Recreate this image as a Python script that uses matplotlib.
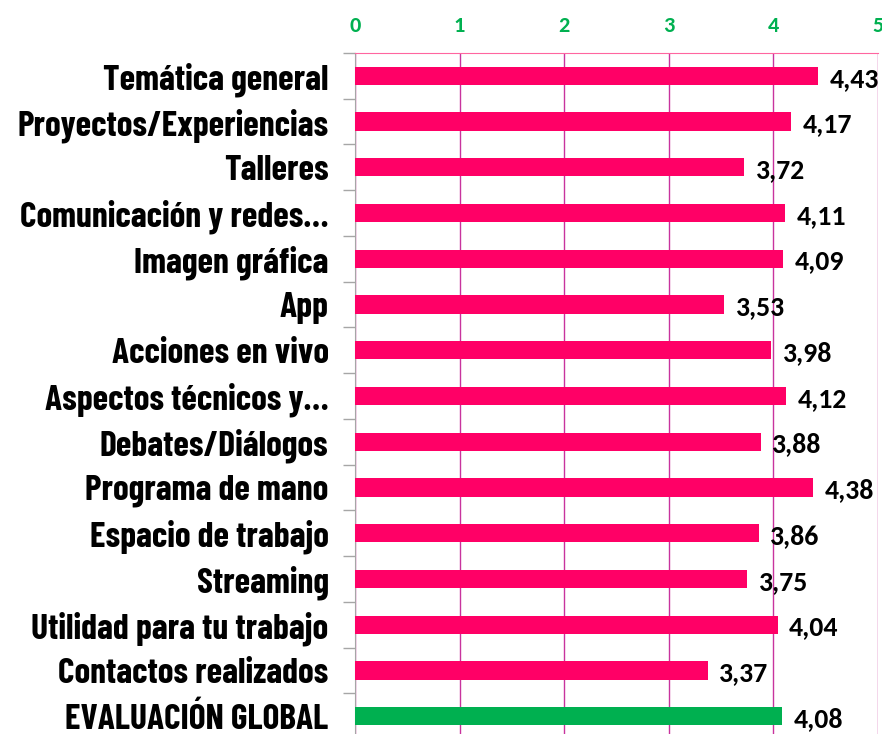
"""Valoración media por aspecto (barras horizontales, eje superior)."""

import matplotlib.pyplot as plt

categorias = [
    "Temática general",
    "Proyectos/Experiencias",
    "Talleres",
    "Comunicación y redes…",
    "Imagen gráfica",
    "App",
    "Acciones en vivo",
    "Aspectos técnicos y…",
    "Debates/Diálogos",
    "Programa de mano",
    "Espacio de trabajo",
    "Streaming",
    "Utilidad para tu trabajo",
    "Contactos realizados",
    "EVALUACIÓN GLOBAL",
]
valores = [4.43, 4.17, 3.72, 4.11, 4.09, 3.53, 3.98, 4.12, 3.88, 4.38,
           3.86, 3.75, 4.04, 3.37, 4.08]
ticks = [0, 1, 2, 3, 4, 5]

ROSA = "#FF0066"
VERDE = "#00B050"
LABEL_FONT = ["Barlow Condensed", "DejaVu Sans"]
NUM_FONT = ["Carlito", "Open Sans", "DejaVu Sans"]

fig = plt.figure(figsize=(8.82, 7.34), dpi=100)
ax = fig.add_axes([0.4025, -0.0068, 0.593, 0.9346])

colores = [ROSA] * (len(valores) - 1) + [VERDE]
y = list(range(len(categorias)))
ax.barh(y, valores, height=0.4, color=colores, zorder=3)
ax.set_ylim(len(categorias) - 0.5, -0.5)
ax.set_xlim(0, 5)

for yi, v in zip(y, valores):
    ax.text(v + 0.11, yi + 0.06, f"{v:.2f}".replace(".", ","), va="center", ha="left",
            fontsize=20, fontweight="bold", family=NUM_FONT, zorder=4)

ax.xaxis.tick_top()
ax.set_xticks(ticks)
ax.set_xticklabels([str(t) for t in ticks], color=VERDE, fontweight="bold",
                   fontsize=16, family=NUM_FONT)
ax.tick_params(axis="x", length=0, pad=12)
ax.grid(axis="x", color="#C8339E", linewidth=1.0, zorder=1)

ax.set_yticks(y)
ax.set_yticklabels(categorias, fontsize=25.5, fontweight="bold", family=LABEL_FONT)
ax.set_yticks([i + 0.5 for i in range(-1, len(categorias))], minor=True)
ax.tick_params(axis="y", which="major", length=0, pad=19)
ax.tick_params(axis="y", which="minor", length=9, color="#A6A6A6", width=1)

for side in ("right", "bottom"):
    ax.spines[side].set_visible(False)
ax.spines["top"].set_color("#FF66A0")
ax.spines["left"].set_color("#A6A6A6")

fig.savefig("out.png", dpi=100)
